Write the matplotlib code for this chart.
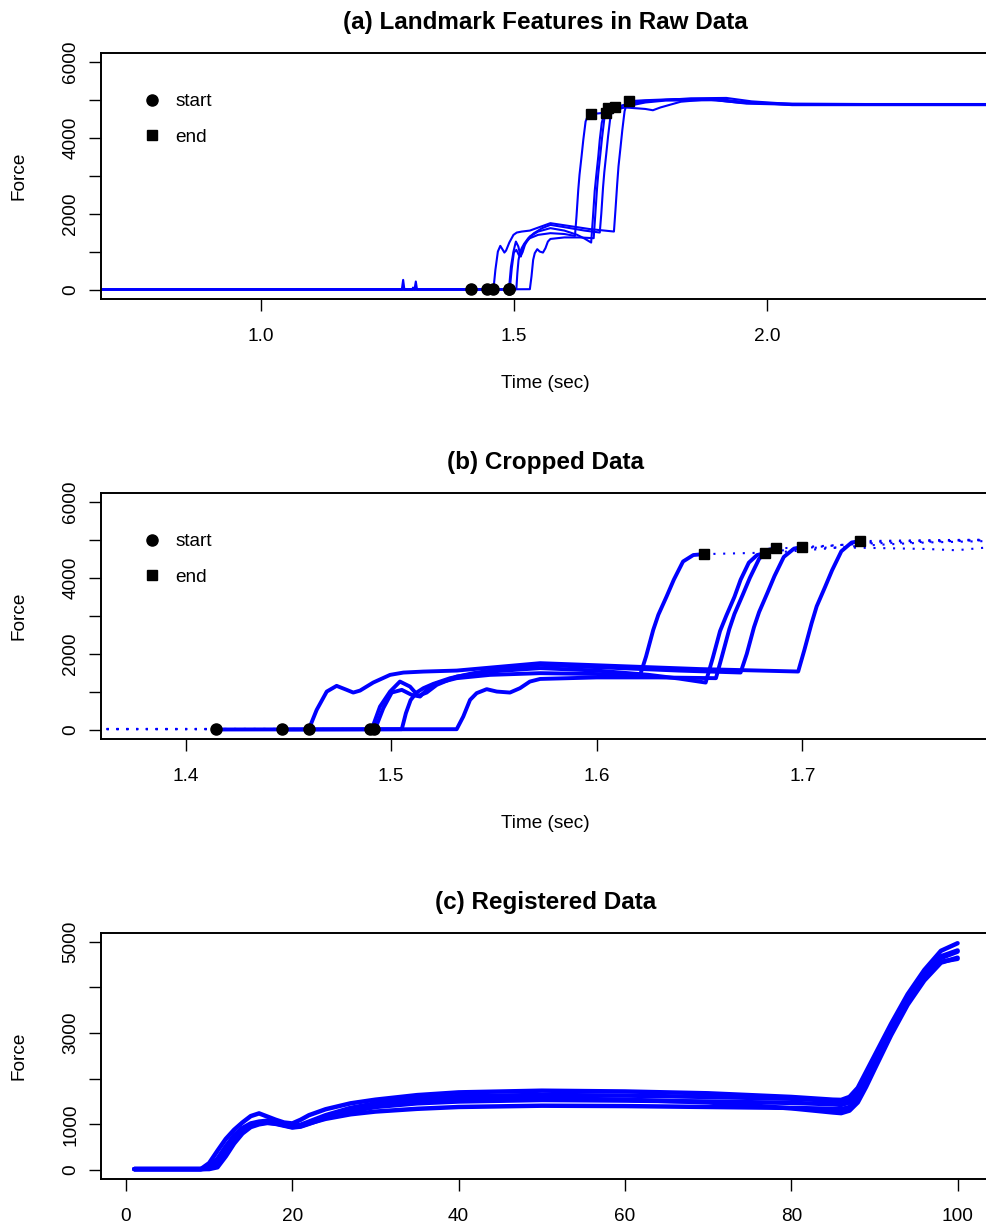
import numpy as np
import matplotlib
matplotlib.use("Agg")
import matplotlib.pyplot as plt
from matplotlib.lines import Line2D

plt.rcParams["font.family"] = ["Liberation Sans", "DejaVu Sans"]

# --- raw force curves (time in sec, force) (a) and (b) ---
t1 = [0.685, 1.4915, 1.4922, 1.4962, 1.5003, 1.5052, 1.5100, 1.5141, 1.5173, 1.5222, 1.5319,
      1.5481, 1.5725, 1.600, 1.621, 1.624, 1.6275, 1.630, 1.634, 1.6375, 1.642, 1.647, 1.652,
      1.68, 1.70, 1.74, 1.80, 1.88, 1.95, 2.05, 2.45]
f1 = [10, 10, 18, 570, 982, 1053, 921, 877, 1053, 1228, 1360,
      1447, 1492, 1470, 1420, 1930, 2630, 3030, 3510, 3950, 4430, 4600, 4624,
      4660, 4780, 4960, 5000, 5010, 4920, 4880, 4880]

t2 = [0.685, 1.4898, 1.4906, 1.4946, 1.4995, 1.5043, 1.5092, 1.5132, 1.5173, 1.5222, 1.5319,
      1.5481, 1.5725, 1.600, 1.625, 1.640, 1.653, 1.6565, 1.660, 1.663, 1.667, 1.670, 1.674,
      1.678, 1.682, 1.70, 1.73, 1.76, 1.80, 1.90, 1.96, 2.05, 2.45]
f2 = [10, 10, 18, 613, 1008, 1271, 1139, 895, 982, 1184, 1403,
      1534, 1624, 1560, 1450, 1350, 1245, 1900, 2600, 3000, 3500, 3950, 4400,
      4600, 4650, 4720, 4850, 4930, 4980, 4990, 4900, 4870, 4875]

t3 = [0.685, 1.279, 1.2816, 1.284, 1.300, 1.301, 1.304, 1.3066, 1.309, 1.415, 1.5319,
      1.5351, 1.5384, 1.5416, 1.5465, 1.5514, 1.5578, 1.5627, 1.5675, 1.5725, 1.600, 1.630,
      1.658, 1.661, 1.6645, 1.667, 1.671, 1.6745, 1.679, 1.683, 1.687,
      1.72, 1.76, 1.775, 1.79, 1.83, 1.90, 1.95, 2.05, 2.45]
f3 = [10, 10, 263, 10, 10, 60, 10, 220, 10, 10, 18,
      350, 789, 966, 1071, 1008, 982, 1097, 1271, 1340, 1380, 1380,
      1360, 1950, 2650, 3050, 3550, 4000, 4500, 4730, 4782,
      4800, 4760, 4726, 4800, 4950, 5030, 4950, 4860, 4860]

t4 = [0.685, 1.447, 1.5052, 1.5072, 1.5095, 1.5124, 1.5157, 1.5205, 1.5287, 1.5400, 1.5562,
      1.5725, 1.600, 1.640, 1.670, 1.673, 1.6765, 1.679, 1.683, 1.6865, 1.691, 1.696, 1.700,
      1.73, 1.78, 1.85, 1.92, 1.97, 2.05, 2.45]
f4 = [10, 10, 18, 439, 784, 982, 1097, 1210, 1360, 1492, 1624,
      1710, 1650, 1560, 1509, 2000, 2700, 3100, 3600, 4050, 4550, 4770, 4808,
      4900, 4980, 5040, 5050, 4960, 4890, 4890]

t5 = [0.685, 1.460, 1.4638, 1.4687, 1.4735, 1.4784, 1.4816, 1.4849, 1.4913, 1.4995, 1.506,
      1.5157, 1.5319, 1.5725, 1.600, 1.650, 1.698, 1.701, 1.7045, 1.707, 1.711, 1.7145,
      1.719, 1.724, 1.728, 1.76, 1.82, 1.90, 1.96, 2.05, 2.45]
f5 = [10, 18, 526, 1008, 1158, 1053, 982, 1034, 1245, 1447, 1508,
      1534, 1560, 1755, 1700, 1600, 1535, 2100, 2800, 3250, 3750, 4200,
      4700, 4930, 4966, 4990, 5020, 5000, 4930, 4900, 4870]

starts = [1.4915, 1.4898, 1.415, 1.447, 1.460]
ends = [1.652, 1.682, 1.687, 1.700, 1.728]

# --- registered curves, panel (c) ---
reg_x = [1, 9, 10, 11, 12, 13, 14, 15, 16, 17, 18, 19, 20, 21, 22, 24, 27, 30, 35, 40,
         50, 60, 70, 80, 85, 86, 87, 88, 89, 90, 92, 94, 96, 98, 100]
reg1 = [20, 20, 20, 60, 300, 580, 800, 940, 1000, 1030, 1010, 970, 930, 950, 1010, 1140, 1280, 1380, 1460, 1500,
        1533, 1520, 1500, 1470, 1440, 1424, 1480, 1650, 1960, 2320, 3050, 3700, 4220, 4560, 4624]
reg2 = [20, 20, 40, 180, 450, 700, 880, 990, 1040, 1050, 1030, 990, 950, 980, 1040, 1160, 1320, 1420, 1510, 1550,
        1570, 1540, 1480, 1350, 1260, 1245, 1300, 1480, 1820, 2200, 2950, 3620, 4150, 4540, 4650]
reg3 = [20, 20, 30, 120, 380, 640, 840, 960, 1020, 1040, 1020, 980, 940, 960, 1020, 1120, 1220, 1280, 1340, 1380,
        1408, 1400, 1380, 1360, 1340, 1330, 1380, 1560, 1900, 2280, 3000, 3680, 4220, 4640, 4782]
reg4 = [20, 20, 60, 250, 520, 760, 920, 1020, 1060, 1080, 1060, 1000, 960, 990, 1060, 1200, 1360, 1460, 1560, 1620,
        1643, 1630, 1600, 1560, 1519, 1509, 1560, 1720, 2020, 2380, 3100, 3750, 4280, 4680, 4808]
reg5 = [20, 20, 150, 420, 680, 880, 1040, 1180, 1240, 1170, 1100, 1040, 1020, 1100, 1200, 1330, 1460, 1540, 1640, 1700,
        1737, 1720, 1680, 1600, 1540, 1535, 1600, 1800, 2150, 2500, 3200, 3850, 4380, 4800, 4966]

raw_t = [t1, t2, t3, t4, t5]
raw_f = [f1, f2, f3, f4, f5]
reg_f = [reg1, reg2, reg3, reg4, reg5]

BLUE = "#0000ff"
FS = 13.7
W, H = 986, 1227

fig = plt.figure(figsize=(W / 100, H / 100), dpi=100)


def px_axes(left, top, right, bottom):
    return fig.add_axes([left / W, 1 - bottom / H, (right - left) / W, (bottom - top) / H])


def style(ax, title, xt, xtl, yt, ytl, xlabel=None):
    ax.set_xticks(xt)
    ax.set_xticklabels(xtl, fontsize=FS)
    ax.set_yticks(yt)
    ax.set_yticklabels(ytl, fontsize=FS, rotation=90, va="center")
    ax.tick_params(axis="both", direction="out", length=8.6, width=1.0, color="black")
    ax.tick_params(axis="x", pad=12.5)
    ax.tick_params(axis="y", pad=7)
    for s in ax.spines.values():
        s.set_linewidth(1.4)
    ax.set_title(title, fontsize=17.5, fontweight="bold", pad=17)
    ax.annotate("Force", xy=(0, 0.5), xycoords="axes fraction", xytext=(-82, 0),
                textcoords="offset pixels", rotation=90, ha="center", va="center", fontsize=FS)
    if xlabel:
        ax.annotate(xlabel, xy=(0.5, 0), xycoords="axes fraction", xytext=(0, -84),
                    textcoords="offset pixels", ha="center", va="center", fontsize=FS)


def add_legend(ax):
    handles = [Line2D([], [], marker="o", ls="none", color="black", ms=8),
               Line2D([], [], marker="s", ls="none", color="black", ms=6.5)]
    ax.legend(handles, ["start", "end"], loc="upper left", bbox_to_anchor=(0.0468, 0.836),
              frameon=False, borderpad=0, borderaxespad=0, handlelength=1.0,
              handletextpad=0.73, labelspacing=0.95, fontsize=FS)


force_ticks = [0, 1000, 2000, 3000, 4000, 5000, 6000]
force_labels = ["0", "", "2000", "", "4000", "", "6000"]

# (a) raw data with landmarks
ax = px_axes(101, 52.7, 990, 299)
for t, f in zip(raw_t, raw_f):
    ax.plot(t, f, color=BLUE, lw=1.5)
for t, f, s, e in zip(raw_t, raw_f, starts, ends):
    ax.plot(s, np.interp(s, t, f), "o", color="black", ms=8, zorder=5)
    ax.plot(e, np.interp(e, t, f), "s", color="black", ms=6.5, zorder=5)
ax.set_xlim(0.6847, 2.4409)
ax.set_ylim(-240, 6240)
style(ax, "(a) Landmark Features in Raw Data", [1.0, 1.5, 2.0], ["1.0", "1.5", "2.0"],
      force_ticks, force_labels, "Time (sec)")
add_legend(ax)

# (b) cropped data
ax = px_axes(101, 492.7, 990, 739)
for t, f, s, e in zip(raw_t, raw_f, starts, ends):
    t = np.array(t)
    f = np.array(f)
    inside = (t >= s) & (t <= e)
    before = t <= s
    after = t >= e
    ax.plot(t[before], f[before], color=BLUE, lw=1.5, ls=(0, (1, 3.7)))
    ax.plot(t[after], f[after], color=BLUE, lw=1.5, ls=(0, (1, 3.7)))
    ax.plot(t[inside], f[inside], color=BLUE, lw=2.8, solid_joinstyle="round")
for t, f, s, e in zip(raw_t, raw_f, starts, ends):
    ax.plot(s, np.interp(s, t, f), "o", color="black", ms=8, zorder=5)
    ax.plot(e, np.interp(e, t, f), "s", color="black", ms=6.5, zorder=5)
ax.set_xlim(1.3589, 1.7913)
ax.set_ylim(-240, 6240)
style(ax, "(b) Cropped Data", [1.4, 1.5, 1.6, 1.7], ["1.4", "1.5", "1.6", "1.7"],
      force_ticks, force_labels, "Time (sec)")
add_legend(ax)

# (c) registered data
ax = px_axes(101, 933, 990, 1179)
for f in reg_f:
    ax.plot(reg_x, f, color=BLUE, lw=3.2, solid_capstyle="round", solid_joinstyle="round")
ax.set_xlim(-3.007, 103.9)
ax.set_ylim(-197, 5190)
style(ax, "(c) Registered Data", [0, 20, 40, 60, 80, 100], ["0", "20", "40", "60", "80", "100"],
      [0, 1000, 2000, 3000, 4000, 5000], ["0", "1000", "", "3000", "", "5000"])

fig.savefig("out.png", dpi=100)
